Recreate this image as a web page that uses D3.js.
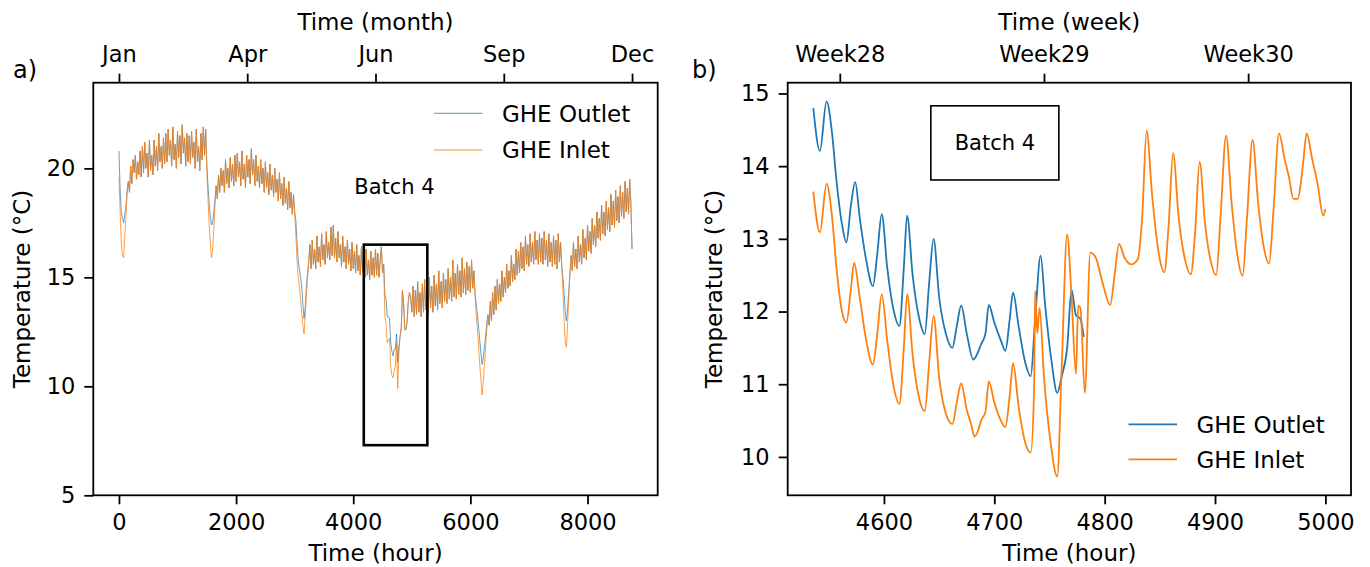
<!DOCTYPE html>
<html>
<head>
<meta charset="utf-8">
<script src="https://cdn.jsdelivr.net/npm/d3@7"></script>
<style>
  body { margin: 0; background: #fff; }
  svg text { font-family: "DejaVu Sans", sans-serif; fill: #000; }
</style>
</head>
<body>
<svg id="chart" width="1370" height="567"></svg>
<script>
// ---- panel a: whole year, one reading every 20 hours (one row = 400 h) ----
const stepA = 20;
const inletA = [
  19.6, 18.0, 16.6, 16.0, 15.9, 16.9, 17.8, 18.9, 19.4, 18.9, 20.1, 19.3, 20.4, 19.8, 20.6, 19.5, 20.3, 19.7, 20.8, 19.6,
  21.0, 19.8, 21.2, 20.0, 20.7, 19.6, 21.3, 19.9, 20.6, 19.7, 21.3, 20.1, 21.0, 19.9, 21.6, 20.3, 21.0, 20.0, 21.4, 20.2,
  21.6, 20.3, 21.8, 20.6, 21.3, 20.1, 21.9, 20.4, 21.1, 20.0, 21.7, 20.5, 21.5, 20.2, 22.0, 20.7, 21.4, 20.1, 21.6, 20.3,
  21.5, 20.2, 21.7, 20.5, 21.2, 20.0, 21.8, 20.3, 21.0, 19.9, 21.6, 20.4, 21.9, 20.6, 21.8, 19.9, 18.6, 17.4, 16.6, 15.9,
  16.3, 17.2, 18.3, 19.2, 18.6, 19.7, 18.9, 20.0, 19.2, 19.9, 18.9, 20.4, 19.3, 20.0, 19.1, 20.5, 19.4, 20.2, 19.2, 20.6,
  19.4, 20.7, 19.6, 20.3, 19.2, 20.8, 19.5, 20.2, 19.1, 20.6, 19.6, 20.4, 19.3, 20.9, 19.7, 20.4, 19.2, 20.6, 19.4, 20.1,
  19.1, 20.4, 19.3, 20.0, 18.9, 20.3, 19.1, 19.8, 18.8, 20.2, 19.0, 19.7, 18.7, 20.0, 18.9, 19.5, 18.5, 19.8, 18.6, 19.3,
  18.3, 19.6, 18.4, 19.1, 18.1, 19.4, 18.2, 18.9, 17.9, 18.8, 18.0, 17.0, 15.8, 15.0, 14.6, 14.0, 13.4, 12.8, 12.4, 13.2,
  14.2, 15.0, 15.7, 16.5, 15.4, 16.7, 15.6, 16.3, 15.4, 16.9, 15.7, 16.4, 15.5, 17.0, 15.8, 16.5, 15.6, 17.1, 15.9, 16.6,
  15.8, 17.3, 16.0, 17.4, 15.9, 16.8, 15.7, 17.1, 15.9, 16.5, 15.5, 16.9, 15.7, 16.4, 15.4, 16.7, 15.6, 16.3, 15.3, 16.6,
  15.4, 16.2, 15.2, 16.5, 15.3, 16.0, 15.1, 16.4, 15.2, 15.9, 15.0, 16.3, 15.1, 15.8, 14.9, 16.2, 15.1, 15.9, 15.0, 16.3,
  15.1, 16.1, 15.0, 15.8, 16.4, 15.2, 15.6, 13.2, 12.9, 12.0, 12.1, 12.2, 10.9, 10.5, 10.4, 10.7, 11.0, 12.0, 9.9, 11.6,
  12.3, 12.7, 14.4, 13.8, 12.6, 12.6, 13.0, 13.9, 14.3, 14.1, 13.4, 14.6, 13.2, 14.4, 13.3, 14.8, 13.4, 14.3, 13.2, 14.7,
  13.4, 14.9, 13.5, 14.5, 13.3, 15.0, 13.6, 14.6, 13.4, 15.1, 13.7, 14.7, 13.5, 15.3, 13.8, 14.8, 13.6, 15.2, 13.9, 14.9,
  13.8, 15.4, 14.0, 15.0, 13.9, 15.8, 14.1, 15.2, 14.0, 15.6, 14.2, 15.3, 14.1, 15.9, 14.3, 15.4, 14.2, 15.7, 14.4, 15.5,
  14.3, 15.8, 14.5, 15.3, 14.2, 13.3, 12.6, 11.8, 11.0, 10.3, 9.6, 10.2, 11.0, 11.8, 12.6, 13.2, 12.8, 13.9, 13.0, 14.3,
  13.3, 14.6, 13.5, 14.9, 13.8, 14.7, 13.9, 15.3, 14.1, 15.0, 14.3, 15.6, 14.5, 15.3, 14.6, 16.0, 14.8, 15.6, 14.9, 16.3,
  15.1, 16.2, 15.2, 16.6, 15.4, 16.4, 15.3, 16.9, 15.6, 16.5, 15.5, 17.0, 15.7, 16.6, 15.6, 17.1, 15.8, 16.7, 15.6, 17.0,
  15.7, 16.8, 15.6, 17.1, 15.8, 16.7, 15.5, 17.0, 15.7, 16.6, 15.5, 16.9, 15.6, 16.7, 15.4, 17.0, 15.7, 16.6, 15.5, 14.4,
  13.0, 12.0, 11.8, 12.9, 14.1, 15.2, 16.0, 15.3, 16.6, 15.5, 16.3, 15.4, 16.9, 15.7, 16.5, 15.6, 17.2, 15.9, 16.8, 15.8,
  17.4, 16.2, 17.1, 16.1, 17.7, 16.5, 17.4, 16.4, 18.0, 16.8, 17.7, 16.7, 18.3, 17.0, 18.0, 16.9, 18.5, 17.2, 18.2, 17.1,
  18.8, 17.4, 18.5, 17.3, 19.0, 17.6, 18.7, 17.5, 19.2, 17.8, 18.9, 17.7, 19.4, 18.0, 19.1, 17.9, 19.5, 18.4, 16.3
];
const outletA = [
  20.8, 19.0, 18.0, 17.7, 17.5, 17.9, 18.3, 19.0, 19.4, 18.9, 20.1, 19.3, 20.4, 19.8, 20.6, 19.5, 20.3, 19.7, 20.8, 19.6,
  21.0, 19.8, 21.2, 20.0, 20.7, 19.6, 21.3, 19.9, 20.6, 19.7, 21.3, 20.1, 21.0, 19.9, 21.6, 20.3, 21.0, 20.0, 21.4, 20.2,
  21.6, 20.3, 21.8, 20.6, 21.3, 20.1, 21.9, 20.4, 21.1, 20.0, 21.7, 20.5, 21.5, 20.2, 22.0, 20.7, 21.4, 20.1, 21.6, 20.3,
  21.5, 20.2, 21.7, 20.5, 21.2, 20.0, 21.8, 20.3, 21.0, 19.9, 21.6, 20.4, 21.9, 20.6, 21.8, 20.2, 19.2, 18.4, 17.8, 17.4,
  17.5, 18.0, 18.6, 19.2, 18.6, 19.7, 18.9, 20.0, 19.2, 19.9, 18.9, 20.4, 19.3, 20.0, 19.1, 20.5, 19.4, 20.2, 19.2, 20.6,
  19.4, 20.7, 19.6, 20.3, 19.2, 20.8, 19.5, 20.2, 19.1, 20.6, 19.6, 20.4, 19.3, 20.9, 19.7, 20.4, 19.2, 20.6, 19.4, 20.1,
  19.1, 20.4, 19.3, 20.0, 18.9, 20.3, 19.1, 19.8, 18.8, 20.2, 19.0, 19.7, 18.7, 20.0, 18.9, 19.5, 18.5, 19.8, 18.6, 19.3,
  18.3, 19.6, 18.4, 19.1, 18.1, 19.4, 18.2, 18.9, 17.9, 18.8, 18.0, 17.6, 16.6, 15.8, 15.4, 15.0, 14.6, 13.8, 13.1, 13.6,
  14.6, 15.2, 15.7, 16.5, 15.4, 16.7, 15.6, 16.3, 15.4, 16.9, 15.7, 16.4, 15.5, 17.0, 15.8, 16.5, 15.6, 17.1, 15.9, 16.6,
  15.8, 17.3, 16.0, 17.4, 15.9, 16.8, 15.7, 17.1, 15.9, 16.5, 15.5, 16.9, 15.7, 16.4, 15.4, 16.7, 15.6, 16.3, 15.3, 16.6,
  15.4, 16.2, 15.2, 16.5, 15.3, 16.0, 15.1, 16.4, 15.2, 15.9, 15.0, 16.3, 15.1, 15.8, 14.9, 16.2, 15.1, 15.9, 15.0, 16.3,
  15.1, 16.1, 15.0, 15.8, 16.4, 15.2, 15.6, 14.2, 14.0, 13.2, 13.2, 13.1, 12.0, 11.6, 11.4, 11.7, 11.7, 12.4, 11.1, 11.8,
  12.3, 12.7, 14.4, 13.8, 12.6, 12.6, 13.0, 13.9, 14.3, 14.1, 13.4, 14.6, 13.2, 14.4, 13.3, 14.8, 13.4, 14.3, 13.2, 14.7,
  13.4, 14.9, 13.5, 14.5, 13.3, 15.0, 13.6, 14.6, 13.4, 15.1, 13.7, 14.7, 13.5, 15.3, 13.8, 14.8, 13.6, 15.2, 13.9, 14.9,
  13.8, 15.4, 14.0, 15.0, 13.9, 15.8, 14.1, 15.2, 14.0, 15.6, 14.2, 15.3, 14.1, 15.9, 14.3, 15.4, 14.2, 15.7, 14.4, 15.5,
  14.3, 15.8, 14.5, 15.3, 14.2, 13.8, 13.3, 12.7, 12.1, 11.5, 11.0, 11.3, 11.8, 12.3, 12.9, 13.3, 12.8, 13.9, 13.0, 14.3,
  13.3, 14.6, 13.5, 14.9, 13.8, 14.7, 13.9, 15.3, 14.1, 15.0, 14.3, 15.6, 14.5, 15.3, 14.6, 16.0, 14.8, 15.6, 14.9, 16.3,
  15.1, 16.2, 15.2, 16.6, 15.4, 16.4, 15.3, 16.9, 15.6, 16.5, 15.5, 17.0, 15.7, 16.6, 15.6, 17.1, 15.8, 16.7, 15.6, 17.0,
  15.7, 16.8, 15.6, 17.1, 15.8, 16.7, 15.5, 17.0, 15.7, 16.6, 15.5, 16.9, 15.6, 16.7, 15.4, 17.0, 15.7, 16.6, 15.5, 15.0,
  14.3, 13.4, 13.0, 13.6, 14.4, 15.2, 16.0, 15.3, 16.6, 15.5, 16.3, 15.4, 16.9, 15.7, 16.5, 15.6, 17.2, 15.9, 16.8, 15.8,
  17.4, 16.2, 17.1, 16.1, 17.7, 16.5, 17.4, 16.4, 18.0, 16.8, 17.7, 16.7, 18.3, 17.0, 18.0, 16.9, 18.5, 17.2, 18.2, 17.1,
  18.8, 17.4, 18.5, 17.3, 19.0, 17.6, 18.7, 17.5, 19.2, 17.8, 18.9, 17.7, 19.4, 18.0, 19.1, 17.9, 19.5, 18.4, 16.3
];
const monthTicks = [0, 2190, 4380, 6570, 8760];
const monthLabels = ["Jan", "Apr", "Jun", "Sep", "Dec"];
const hourTicksA = [0, 2000, 4000, 6000, 8000];
const tempTicksA = [5, 10, 15, 20];
const batchBoxA = { h0: 4180, h1: 5265, t0: 7.3, t1: 16.5 };
const batchTextA = { h: 4704, t: 19.15 };

// ---- panel b: batch 4 zoom, [hour, temperature] ----
const outletB = [
  [4536, 14.80], [4542, 14.21], [4548, 14.89], [4553, 14.45], [4557, 13.80],
  [4562, 13.20], [4566, 12.95], [4570, 13.45], [4574, 13.78], [4578, 13.30],
  [4584, 12.70], [4590, 12.35], [4594, 12.80], [4598, 13.34], [4603, 12.60],
  [4609, 12.00], [4614, 11.80], [4618, 12.60], [4621, 13.32], [4626, 12.50],
  [4632, 11.90], [4637, 11.69], [4641, 12.40], [4645, 13.00], [4650, 12.20],
  [4656, 11.70], [4662, 11.50], [4666, 11.80], [4670, 12.08], [4675, 11.70],
  [4681, 11.34], [4684, 11.40], [4688, 11.55], [4692, 11.70], [4695, 12.09],
  [4700, 11.85], [4706, 11.60], [4710, 11.46], [4714, 11.90], [4717, 12.26],
  [4722, 11.80], [4728, 11.30], [4733, 11.11], [4737, 11.90], [4742, 12.77],
  [4746, 12.10], [4752, 11.30], [4757, 10.88], [4761, 11.10], [4766, 11.50],
  [4770, 12.30], [4774, 11.95], [4778, 11.90], [4781, 11.65]
];
const inletB = [
  [4536, 13.65], [4542, 13.09], [4548, 13.76], [4553, 13.30], [4557, 12.60],
  [4562, 12.00], [4566, 11.85], [4570, 12.30], [4573, 12.67], [4578, 12.20],
  [4584, 11.60], [4590, 11.27], [4594, 11.70], [4598, 12.24], [4603, 11.60],
  [4609, 10.95], [4614, 10.73], [4618, 11.50], [4621, 12.24], [4626, 11.40],
  [4632, 10.80], [4637, 10.63], [4641, 11.30], [4645, 11.94], [4650, 11.10],
  [4656, 10.60], [4662, 10.45], [4666, 10.75], [4670, 11.01], [4675, 10.65],
  [4679, 10.45], [4682, 10.28], [4685, 10.35], [4688, 10.50], [4692, 10.62],
  [4695, 11.04], [4700, 10.75], [4706, 10.50], [4710, 10.41], [4714, 10.85],
  [4717, 11.29], [4722, 10.70], [4728, 10.20], [4733, 10.06], [4736, 10.90],
  [4737, 12.28], [4739, 11.70], [4741, 12.05], [4745, 11.10], [4751, 10.20],
  [4757, 9.73], [4761, 11.20], [4766, 13.06], [4770, 12.20], [4774, 11.14],
  [4776, 12.08], [4778, 12.05], [4782, 10.88], [4787, 12.81], [4792, 12.74],
  [4798, 12.40], [4805, 12.09], [4809, 12.50], [4813, 12.93], [4818, 12.74],
  [4824, 12.65], [4830, 12.72], [4834, 13.30], [4838, 14.49], [4843, 13.60],
  [4849, 12.80], [4854, 12.54], [4858, 13.20], [4862, 14.18], [4867, 13.30],
  [4873, 12.70], [4878, 12.51], [4882, 13.10], [4886, 14.06], [4891, 13.20],
  [4896, 12.70], [4901, 12.50], [4905, 13.30], [4910, 14.42], [4915, 13.50],
  [4920, 12.80], [4925, 12.49], [4929, 13.30], [4934, 14.36], [4939, 13.50],
  [4944, 12.90], [4949, 12.66], [4953, 13.40], [4958, 14.45], [4963, 14.10],
  [4967, 13.85], [4971, 13.55], [4975, 13.55], [4978, 13.80], [4980, 14.07],
  [4983, 14.45], [4988, 14.10], [4993, 13.75], [4998, 13.32], [5000, 13.41]
];
const weekTicks = [4560, 4745, 4930];
const weekLabels = ["Week28", "Week29", "Week30"];
const hourTicksB = [4600, 4700, 4800, 4900, 5000];
const tempTicksB = [10, 11, 12, 13, 14, 15];
const batchBoxB = { h0: 4642.5, h1: 4758.5, t0: 13.81, t1: 14.83 };

const blue = "#1f77b4";
const orange = "#ff7f0e";
const tickFont = 22.5;
const labelFont = 23;

const svg = d3.select("#chart");

const hoursA = inletA.map((d, i) => i * stepA);

function padded(lo, hi) {
  const m = (hi - lo) * 0.05;
  return [lo - m, hi + m];
}

const xA = d3.scaleLinear()
  .domain(padded(0, d3.max(hoursA)))
  .range([93.3, 657.7]);
const yA = d3.scaleLinear().domain([5, 23.93]).range([495.3, 82.7]);

const xB = d3.scaleLinear()
  .domain(padded(d3.min(inletB, d => d[0]), d3.max(inletB, d => d[0])))
  .range([787.7, 1351]);
const yB = d3.scaleLinear()
  .domain(padded(d3.min(inletB, d => d[1]), d3.max(outletB, d => d[1])))
  .range([495.3, 82.7]);

function styleAxis(g) {
  g.attr("font-family", "DejaVu Sans, sans-serif").attr("font-size", tickFont);
  g.select(".domain").remove();
  g.selectAll(".tick line").attr("stroke", "#000").attr("stroke-width", 1.8);
  g.selectAll(".tick text").attr("fill", "#000");
}

function drawAxes(x, y, o) {
  const [x0, x1] = x.range();
  const [y0, y1] = y.range();

  svg.append("g")
    .attr("transform", `translate(0,${y0})`)
    .call(d3.axisBottom(x).tickValues(o.bottom).tickFormat(d3.format("d"))
      .tickSize(9).tickPadding(9.5))
    .call(styleAxis);

  svg.append("g")
    .attr("transform", `translate(0,${y1})`)
    .call(d3.axisTop(x).tickValues(o.top).tickFormat((d, i) => o.topLabels[i])
      .tickSize(9).tickPadding(12))
    .call(styleAxis);

  svg.append("g")
    .attr("transform", `translate(${x0},0)`)
    .call(d3.axisLeft(y).tickValues(o.left).tickFormat(d3.format("d"))
      .tickSize(9).tickPadding(9))
    .call(styleAxis);

  svg.append("rect")
    .attr("x", x0).attr("y", y1)
    .attr("width", x1 - x0).attr("height", y0 - y1)
    .attr("fill", "none").attr("stroke", "#000").attr("stroke-width", 1.8);

  const cx = (x0 + x1) / 2;
  svg.append("text").attr("x", cx).attr("y", 30)
    .attr("text-anchor", "middle").attr("font-size", labelFont).text(o.topTitle);
  svg.append("text").attr("x", cx).attr("y", 561)
    .attr("text-anchor", "middle").attr("font-size", labelFont).text("Time (hour)");
  svg.append("text")
    .attr("transform", `translate(${o.ylabelX},${(y0 + y1) / 2}) rotate(-90)`)
    .attr("text-anchor", "middle").attr("font-size", labelFont)
    .text("Temperature (°C)");
  svg.append("text").attr("x", o.tagX).attr("y", 78)
    .attr("font-size", 24).text(o.tag);
}

function legend(x, y, items, width, opacity) {
  items.forEach((it, i) => {
    const yy = y + i * it.gap;
    svg.append("line")
      .attr("x1", x).attr("x2", x + 48.5).attr("y1", yy).attr("y2", yy)
      .attr("stroke", it.color).attr("stroke-width", width).attr("opacity", opacity);
    svg.append("text").attr("x", x + 68).attr("y", yy).attr("dy", "0.36em")
      .attr("font-size", labelFont).text(it.name);
  });
}

// ---- panel a ----
const lineA = d3.line().x((d, i) => xA(hoursA[i])).y(d => yA(d));

svg.append("path").datum(outletA)
  .attr("d", lineA).attr("fill", "none")
  .attr("stroke", blue).attr("stroke-width", 1).attr("opacity", 0.7);
svg.append("path").datum(inletA)
  .attr("d", lineA).attr("fill", "none")
  .attr("stroke", orange).attr("stroke-width", 1).attr("opacity", 0.75);

svg.append("rect")
  .attr("x", xA(batchBoxA.h0)).attr("y", yA(batchBoxA.t1))
  .attr("width", xA(batchBoxA.h1) - xA(batchBoxA.h0))
  .attr("height", yA(batchBoxA.t0) - yA(batchBoxA.t1))
  .attr("fill", "none").attr("stroke", "#000").attr("stroke-width", 2.6);

svg.append("text")
  .attr("x", xA(batchTextA.h)).attr("y", yA(batchTextA.t)).attr("dy", "0.36em")
  .attr("text-anchor", "middle").attr("font-size", 21).text("Batch 4");

drawAxes(xA, yA, {
  bottom: hourTicksA, top: monthTicks, topLabels: monthLabels, left: tempTicksA,
  topTitle: "Time (month)", ylabelX: 30, tag: "a)", tagX: 13
});

legend(434, 113.3, [
  { name: "GHE Outlet", color: blue, gap: 36.7 },
  { name: "GHE Inlet", color: orange, gap: 36.7 }
], 1.3, 0.6);

// ---- panel b ----
const lineB = d3.line().x(d => xB(d[0])).y(d => yB(d[1])).curve(d3.curveMonotoneX);

svg.append("path").datum(outletB)
  .attr("d", lineB).attr("fill", "none")
  .attr("stroke", blue).attr("stroke-width", 1.8);
svg.append("path").datum(inletB)
  .attr("d", lineB).attr("fill", "none")
  .attr("stroke", orange).attr("stroke-width", 1.8);

svg.append("rect")
  .attr("x", xB(batchBoxB.h0)).attr("y", yB(batchBoxB.t1))
  .attr("width", xB(batchBoxB.h1) - xB(batchBoxB.h0))
  .attr("height", yB(batchBoxB.t0) - yB(batchBoxB.t1))
  .attr("fill", "#fff").attr("stroke", "#000").attr("stroke-width", 1.6);
svg.append("text")
  .attr("x", xB((batchBoxB.h0 + batchBoxB.h1) / 2))
  .attr("y", yB((batchBoxB.t0 + batchBoxB.t1) / 2)).attr("dy", "0.36em")
  .attr("text-anchor", "middle").attr("font-size", 21).text("Batch 4");

drawAxes(xB, yB, {
  bottom: hourTicksB, top: weekTicks, topLabels: weekLabels, left: tempTicksB,
  topTitle: "Time (week)", ylabelX: 722, tag: "b)", tagX: 692
});

legend(1128.5, 424.3, [
  { name: "GHE Outlet", color: blue, gap: 35 },
  { name: "GHE Inlet", color: orange, gap: 35 }
], 1.8, 1);
</script>
</body>
</html>
